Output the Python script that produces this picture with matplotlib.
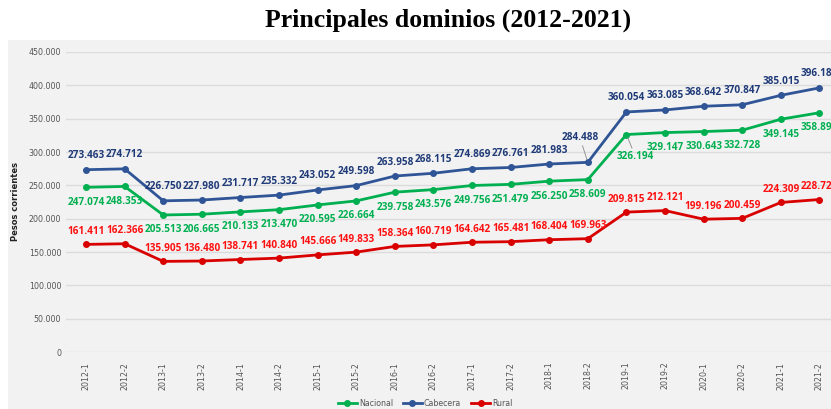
import matplotlib
matplotlib.use("Agg")
import matplotlib.pyplot as plt
from matplotlib.ticker import FuncFormatter

periods = ["2012-1", "2012-2", "2013-1", "2013-2", "2014-1", "2014-2", "2015-1", "2015-2",
           "2016-1", "2016-2", "2017-1", "2017-2", "2018-1", "2018-2", "2019-1", "2019-2",
           "2020-1", "2020-2", "2021-1", "2021-2"]
nacional = [247074, 248353, 205513, 206665, 210133, 213470, 220595, 226664, 239758, 243576,
            249756, 251479, 256250, 258609, 326194, 329147, 330643, 332728, 349145, 358890]
cabecera = [273463, 274712, 226750, 227980, 231717, 235332, 243052, 249598, 263958, 268115,
            274869, 276761, 281983, 284488, 360054, 363085, 368642, 370847, 385015, 396180]
rural = [161411, 162366, 135905, 136480, 138741, 140840, 145666, 149833, 158364, 160719,
         164642, 165481, 168404, 169963, 209815, 212121, 199196, 200459, 224309, 228720]

W, H = 831, 409
fig = plt.figure(figsize=(W / 100, H / 100), dpi=100)
fig.patch.set_facecolor("white")

bg = fig.add_axes([8 / W, 0, 1 - 8 / W, (H - 40) / H], zorder=-5)
bg.set_facecolor("#f2f2f2")
bg.set_xticks([])
bg.set_yticks([])
for s in bg.spines.values():
    s.set_visible(False)

ax = fig.add_axes([66 / W, (H - 352) / H, 1 - 66 / W, 300 / H], zorder=1)
ax.patch.set_visible(False)
x = list(range(len(periods)))

c_nac, c_cab, c_rur = "#00b050", "#2f5597", "#d90000"
t_nac, t_cab, t_rur = "#00b050", "#1f3a78", "#ff1010"

ax.plot(x, nacional, color=c_nac, lw=2, marker="o", ms=4, label="Nacional", zorder=3)
ax.plot(x, cabecera, color=c_cab, lw=2, marker="o", ms=4, label="Cabecera", zorder=3)
ax.plot(x, rural, color=c_rur, lw=2, marker="o", ms=4, label="Rural", zorder=3)

ax.set_xlim(-0.52, 19.3)
ax.set_ylim(0, 450000)
ax.set_yticks(range(0, 450001, 50000))
ax.yaxis.set_major_formatter(FuncFormatter(lambda v, p: f"{int(v):,}".replace(",", ".")))
ax.grid(axis="y", color="#dcdcdc", lw=1)
ax.set_axisbelow(True)
for s in ax.spines.values():
    s.set_visible(False)
ax.tick_params(axis="both", length=0, labelsize=5.7, labelcolor="#555555")
ax.tick_params(axis="x", pad=7)
ax.set_xticks(x)
ax.set_xticklabels(periods, rotation=90)
ax.set_ylabel("Pesos corrientes", fontsize=6, fontweight="bold", color="#222222", labelpad=6)

fmt = lambda v: f"{v:,}".replace(",", ".")
lab_kw = dict(fontsize=7.2, fontweight="bold", family="Open Sans", ha="center", va="center",
              clip_on=False, zorder=4)
for i in x:
    if i == 13:
        ax.annotate(fmt(cabecera[i]), (i, cabecera[i]), xytext=(-8, 25), textcoords="offset pixels",
                    color=t_cab, arrowprops=dict(arrowstyle="-", color="#888888", lw=0.6,
                                                 shrinkA=0, shrinkB=2), **lab_kw)
    else:
        ax.annotate(fmt(cabecera[i]), (i, cabecera[i]), xytext=(0, 14), textcoords="offset pixels",
                    color=t_cab, **lab_kw)
    if i == 14:
        ax.annotate(fmt(nacional[i]), (i, nacional[i]), xytext=(9, -22), textcoords="offset pixels",
                    color=t_nac, arrowprops=dict(arrowstyle="-", color="#888888", lw=0.6,
                                                 shrinkA=0, shrinkB=2), **lab_kw)
    else:
        ax.annotate(fmt(nacional[i]), (i, nacional[i]), xytext=(0, -15), textcoords="offset pixels",
                    color=t_nac, **lab_kw)
    ax.annotate(fmt(rural[i]), (i, rural[i]), xytext=(0, 13), textcoords="offset pixels",
                color=t_rur, **lab_kw)

leg = fig.legend(loc="center", bbox_to_anchor=(425 / W, 1 - 403 / H), ncol=3, frameon=False,
                 fontsize=5.7, handlelength=2.5, columnspacing=1.2, handletextpad=0.2,
                 labelcolor="#555555")

fig.text(448 / W, 1 - 20 / H, "Principales dominios (2012-2021)", ha="center", va="center",
         fontsize=18.5, fontweight="bold", family="Liberation Serif")

fig.savefig("out.png", dpi=100)
